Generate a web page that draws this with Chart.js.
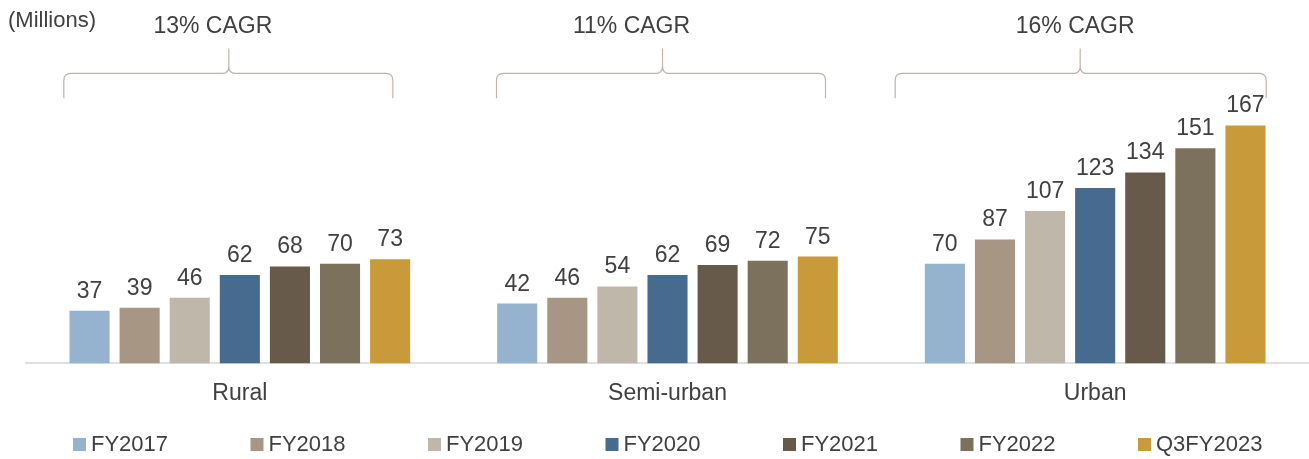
<!DOCTYPE html>
<html>
<head>
<meta charset="utf-8">
<script src="https://cdn.jsdelivr.net/npm/chart.js@4"></script>
<style>
  html, body { margin: 0; padding: 0; background: #ffffff; }
  #wrap { width: 1309px; height: 459px; position: relative; }
</style>
</head>
<body>
<div id="wrap"><canvas id="segmentChart"></canvas></div>
<script>
var categories = ["Rural", "Semi-urban", "Urban"];
var seriesNames = ["FY2017", "FY2018", "FY2019", "FY2020", "FY2021", "FY2022", "Q3FY2023"];
var fy2017 = [37, 42, 70];
var fy2018 = [39, 46, 87];
var fy2019 = [46, 54, 107];
var fy2020 = [62, 62, 123];
var fy2021 = [68, 69, 134];
var fy2022 = [70, 72, 151];
var q3fy2023 = [73, 75, 167];
var cagrLabels = ["13% CAGR", "11% CAGR", "16% CAGR"];

var seriesValues = [fy2017, fy2018, fy2019, fy2020, fy2021, fy2022, q3fy2023];
var colors = ["#95b3cf", "#a69683", "#bfb7aa", "#466b8e", "#675a4a", "#7b715c", "#c89a3a"];

var textColor = "#404040";
var fontFamily = "'Liberation Sans', Arial, sans-serif";

// bracket shape per category, offsets in px from the category centre
var brackets = [
  { left: -176, right: 153, peak: -11, text: -27 },
  { left: -171, right: 158, peak: -5, text: -36 },
  { left: -200, right: 171, peak: -15, text: -20 }
];

var valueLabels = {
  id: "valueLabels",
  afterDatasetsDraw: function (chart) {
    var ctx = chart.ctx;
    ctx.save();
    ctx.font = "23px " + fontFamily;
    ctx.fillStyle = textColor;
    ctx.textAlign = "center";
    ctx.textBaseline = "alphabetic";
    chart.data.datasets.forEach(function (ds, i) {
      chart.getDatasetMeta(i).data.forEach(function (bar, j) {
        ctx.fillText(ds.data[j], bar.x, bar.y - 13);
      });
    });
    ctx.restore();
  }
};

var cagrBrackets = {
  id: "cagrBrackets",
  afterDraw: function (chart) {
    var ctx = chart.ctx;
    var x = chart.scales.x;
    var y = chart.scales.y;
    var yEnd = y.getPixelForValue(186);
    var yLine = y.getPixelForValue(203.5);
    var yPeak = y.getPixelForValue(221);
    var yText = y.getPixelForValue(236);
    var r = 7;
    ctx.save();
    ctx.strokeStyle = "#bdb5aa";
    ctx.lineWidth = 1.2;
    categories.forEach(function (c, i) {
      var cx = x.getPixelForValue(i);
      var b = brackets[i];
      var L = cx + b.left, R = cx + b.right, P = cx + b.peak;
      ctx.beginPath();
      ctx.moveTo(L, yEnd);
      ctx.lineTo(L, yLine + r);
      ctx.quadraticCurveTo(L, yLine, L + r, yLine);
      ctx.lineTo(P - r, yLine);
      ctx.quadraticCurveTo(P, yLine, P, yLine - r);
      ctx.lineTo(P, yPeak);
      ctx.moveTo(P, yLine - r);
      ctx.quadraticCurveTo(P, yLine, P + r, yLine);
      ctx.lineTo(R - r, yLine);
      ctx.quadraticCurveTo(R, yLine, R, yLine + r);
      ctx.lineTo(R, yEnd);
      ctx.stroke();

      ctx.font = "23px " + fontFamily;
      ctx.fillStyle = textColor;
      ctx.textAlign = "center";
      ctx.textBaseline = "middle";
      ctx.fillText(cagrLabels[i], cx + b.text, yText);
    });
    ctx.font = "22px " + fontFamily;
    ctx.textAlign = "left";
    ctx.fillText("(Millions)", 8, 21);
    ctx.restore();
  }
};

// legend with evenly spaced items like the original
var fixedLegend = {
  id: "fixedLegend",
  afterDraw: function (chart) {
    var ctx = chart.ctx;
    var y = 444;
    ctx.save();
    ctx.font = "22px " + fontFamily;
    ctx.textAlign = "left";
    ctx.textBaseline = "middle";
    seriesNames.forEach(function (name, i) {
      var x = 73 + i * 177.5;
      ctx.fillStyle = colors[i];
      ctx.fillRect(x, y - 6, 13, 13);
      ctx.fillStyle = textColor;
      ctx.fillText(name, x + 18, y + 1);
    });
    ctx.restore();
  }
};

new Chart(document.getElementById("segmentChart"), {
  type: "bar",
  data: {
    labels: categories,
    datasets: seriesNames.map(function (name, i) {
      return {
        label: name,
        data: seriesValues[i],
        backgroundColor: colors[i],
        barPercentage: 0.8,
        categoryPercentage: 0.82
      };
    })
  },
  options: {
    responsive: true,
    maintainAspectRatio: false,
    animation: false,
    layout: { padding: { left: 26, right: 0, top: 0, bottom: 44 } },
    plugins: {
      title: { display: false },
      tooltip: { enabled: false },
      legend: { display: false }
    },
    scales: {
      x: {
        grid: { display: false },
        border: { display: true, color: "#e0e0e0", width: 2 },
        ticks: {
          color: textColor,
          font: { family: fontFamily, size: 23 },
          padding: 8
        }
      },
      y: {
        display: false,
        min: 0,
        max: 255
      }
    }
  },
  plugins: [valueLabels, cagrBrackets, fixedLegend]
});
</script>
</body>
</html>
